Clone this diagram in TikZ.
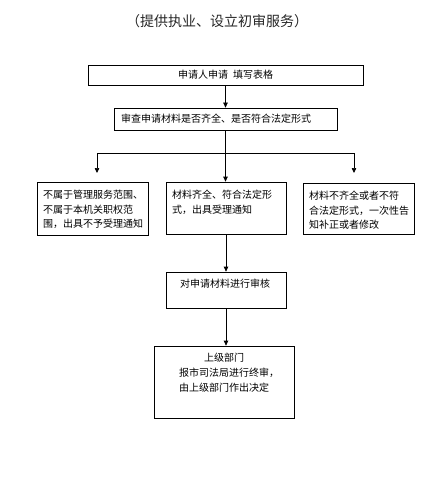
\documentclass[tikz,border=0pt]{standalone}
\usepackage{fontspec}
\setmainfont{Noto Sans CJK SC}
\usepackage{tikz}
\usetikzlibrary{positioning}
\usetikzlibrary{arrows.meta}

\begin{document}
\begin{tikzpicture}	[
		x=1pt, y=-1pt,
		box/.style={draw, line width=0.7pt, inner sep=0pt},
		txt/.style={inner sep=0pt, align=left, anchor=north west, font=\fontsize{10}{14.5}\selectfont},
		line/.style={line width=0.7pt},
		arrow/.style={line, -{Triangle[length=5pt,width=4.5pt]}}
	]
		\useasboundingbox (0,0) rectangle (441,500);
		\node[font=\fontsize{14}{16}\selectfont, text=black!85] (title) at (217,21) {（提供执业、设立初审服务）};
		% boxes
		\node[box, minimum width=275pt, minimum height=20pt, font=\fontsize{10}{14}\selectfont] (apply) at (225.5,75) {申请人申请\enspace 填写表格};
		\node[box, minimum width=223pt, minimum height=22pt, inner xsep=7pt, text width=209pt, align=left, font=\fontsize{10}{14}\selectfont] (check) at (225.5,119) {审查申请材料是否齐全、是否符合法定形式};
		\node[box, minimum width=111pt, minimum height=53pt] (reject) at (92.5,208.5) {};
		\node[box, minimum width=120pt, minimum height=52pt] (accept) at (226,208) {};
		\node[box, minimum width=111pt, minimum height=51pt] (amend) at (358.5,208.5) {};
		\node[box, minimum width=120pt, minimum height=36pt] (review) at (226,290) {};
		\node[box, minimum width=140pt, minimum height=72pt] (final) at (224,382) {};
		% texts
		\node[txt] (rejectText) at (43,190) {不属于管理服务范围、\\不属于本机关职权范\\围，出具不予受理通知};
		\node[txt] (acceptText) at (172,190) {材料齐全、符合法定形\\式，出具受理通知};
		\node[txt] (amendText) at (309,191) {材料不齐全或者不符\\合法定形式，一次性告\\知补正或者修改};
		\node[txt] (reviewText) at (180,279) {对申请材料进行审核};
		\node[txt, font=\fontsize{10}{15}\selectfont] (finalText) at (179,353) {\hspace*{25pt}上级部门\\报市司法局进行终审，\\由上级部门作出决定};
		% connectors
		\coordinate (split) at (225.5,153);
		\coordinate (splitL) at (97,153);
		\coordinate (splitR) at (354,153);
		\coordinate (tipL) at (97,173);
		\coordinate (tipR) at (354,173);
		\draw[arrow] (apply) -- (check);
		\draw[line] (check) -- (split);
		\draw[line] (splitL) -- (splitR);
		\draw[arrow] (splitL) -- (tipL);
		\draw[arrow] (splitR) -- (tipR);
		\draw[arrow] (split) -- (split |- accept.north);
		\draw[arrow] (accept) -- (review);
		\draw[arrow] (review.south) -- (review.south |- final.north);
	\end{tikzpicture}
\end{document}
